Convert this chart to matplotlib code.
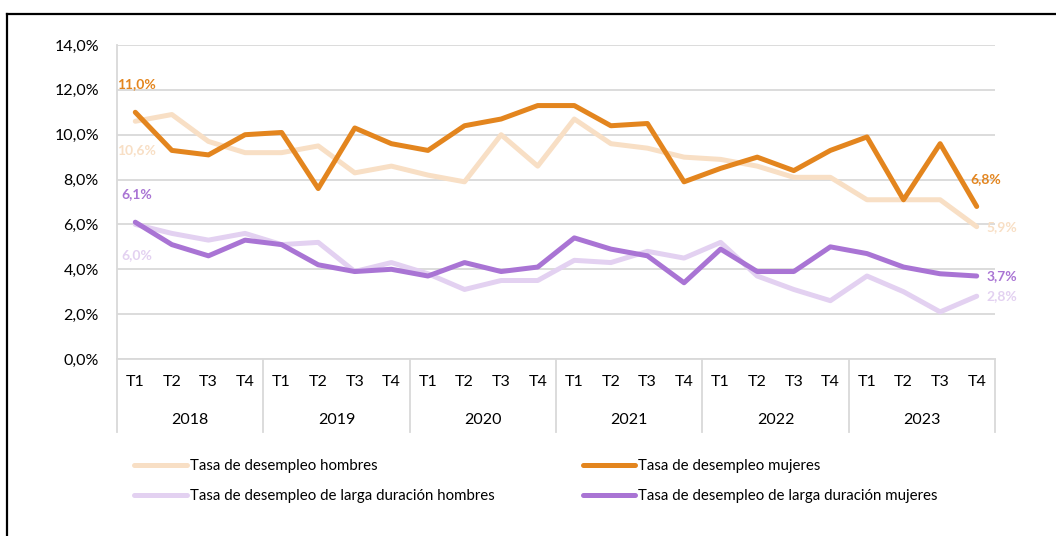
import numpy as np
import matplotlib
matplotlib.use('Agg')
import matplotlib.pyplot as plt
from matplotlib.lines import Line2D
from matplotlib.ticker import FuncFormatter
import matplotlib.transforms as mtransforms

plt.rcParams['font.family'] = ['Lato', 'DejaVu Sans']

years = ['2018', '2019', '2020', '2021', '2022', '2023']
quarters = ['T1', 'T2', 'T3', 'T4']

hombres = [10.6, 10.9, 9.7, 9.2, 9.2, 9.5, 8.3, 8.6, 8.2, 7.9, 10.0, 8.6,
           10.7, 9.6, 9.4, 9.0, 8.9, 8.6, 8.1, 8.1, 7.1, 7.1, 7.1, 5.9]
mujeres = [11.0, 9.3, 9.1, 10.0, 10.1, 7.6, 10.3, 9.6, 9.3, 10.4, 10.7, 11.3,
           11.3, 10.4, 10.5, 7.9, 8.5, 9.0, 8.4, 9.3, 9.9, 7.1, 9.6, 6.8]
ld_hombres = [6.0, 5.6, 5.3, 5.6, 5.1, 5.2, 3.9, 4.3, 3.8, 3.1, 3.5, 3.5,
              4.4, 4.3, 4.8, 4.5, 5.2, 3.7, 3.1, 2.6, 3.7, 3.0, 2.1, 2.8]
ld_mujeres = [6.1, 5.1, 4.6, 5.3, 5.1, 4.2, 3.9, 4.0, 3.7, 4.3, 3.9, 4.1,
              5.4, 4.9, 4.6, 3.4, 4.9, 3.9, 3.9, 5.0, 4.7, 4.1, 3.8, 3.7]

series_names = ['Tasa de desempleo hombres', 'Tasa de desempleo mujeres',
                'Tasa de desempleo de larga duración hombres',
                'Tasa de desempleo de larga duración mujeres']
colors = ['#F8DFC5', '#E3851E', '#E3D1F1', '#A974D4']

W, H = 1056, 536
fig = plt.figure(figsize=(W / 100, H / 100), dpi=100)
ax = fig.add_axes([117 / W, 1 - 359 / H, (995 - 117) / W, (359 - 45) / H])

x = np.arange(len(hombres))
data = [hombres, mujeres, ld_hombres, ld_mujeres]
lines = []
for vals, name, c in zip(data, series_names, colors):
    l, = ax.plot(x, vals, color=c, lw=3.6, solid_capstyle='round', solid_joinstyle='round', label=name)
    lines.append(l)

ax.set_xlim(-0.5, len(x) - 0.5)
ax.set_ylim(0, 14)
ax.set_yticks(np.arange(0, 15, 2))
ax.yaxis.set_major_formatter(FuncFormatter(lambda v, p: f'{v:.1f}'.replace('.', ',') + '%'))
ax.grid(axis='y', color='#D9D9D9', lw=1.3)
ax.set_axisbelow(True)
for s in ['top', 'right']:
    ax.spines[s].set_visible(False)
for s in ['left', 'bottom']:
    ax.spines[s].set_color('#D9D9D9')
    ax.spines[s].set_linewidth(1.3)
ax.tick_params(axis='y', length=0, pad=13, labelsize=11.5)
ax.set_xticks([])

# category labels (quarters + years)
trans = mtransforms.blended_transform_factory(ax.transData, ax.transAxes)
ph = (359 - 45)
for i in x:
    ax.text(i, -23 / ph, quarters[i % 4], transform=trans, ha='center', va='center', fontsize=11.5)
for j, y in enumerate(years):
    ax.text(j * 4 + 1.5, -61 / ph, y, transform=trans, ha='center', va='center', fontsize=11.5)
for j in range(len(years) + 1):
    ax.plot([j * 4 - 0.5] * 2, [0, -73 / ph], transform=trans, color='#D9D9D9', lw=1.3, clip_on=False)


def fmt(v):
    return f'{v:.1f}'.replace('.', ',') + '%'


# data labels
first_offsets = [(1, -21), (1, 20), (1, -22), (1, 20)]
for vals, c, off in zip(data, colors, first_offsets):
    ax.annotate(fmt(vals[0]), (x[0], vals[0]), xytext=off, textcoords='offset points',
                ha='center', va='center', color=c, fontsize=10, fontweight='bold')
last_offsets = [(7, 0), (6.5, 19.5), (7, 0), (7, 0)]
last_ha = ['left', 'center', 'left', 'left']
for vals, c, off, ha in zip(data, colors, last_offsets, last_ha):
    ax.annotate(fmt(vals[-1]), (x[-1], vals[-1]), xytext=off, textcoords='offset points',
                ha=ha, va='center', color=c, fontsize=10, fontweight='bold')

fig.legend(handles=[lines[0], lines[2], lines[1], lines[3]],
           labels=[series_names[0], series_names[2], series_names[1], series_names[3]],
           ncol=2, loc='upper left', bbox_to_anchor=(134 / W, 1 - 459 / H),
           frameon=False, fontsize=10.8, handlelength=3.5, handletextpad=0.2,
           columnspacing=5.9, labelspacing=1.05, borderpad=0, borderaxespad=0)

# outer frame (top and left edges)
fig.add_artist(Line2D([7 / W, 7 / W], [0, 1 - 14 / H], color='black', lw=1.6))
fig.add_artist(Line2D([7 / W, 1], [1 - 14 / H, 1 - 14 / H], color='black', lw=1.6))

fig.savefig('out.png', dpi=100)
